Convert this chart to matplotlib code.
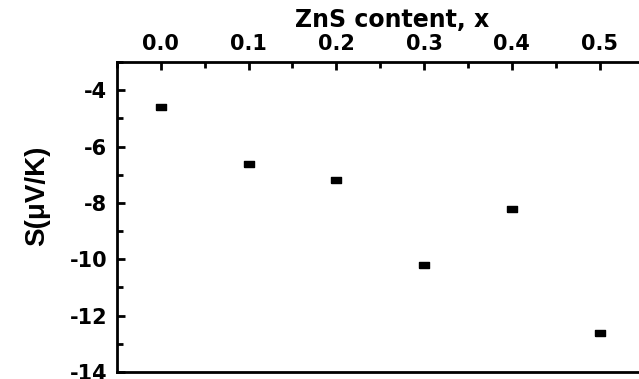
import matplotlib
matplotlib.use("Agg")
import matplotlib.pyplot as plt
from matplotlib.ticker import MultipleLocator

plt.rcParams['font.family'] = ['DejaVu Sans']
plt.rcParams['font.weight'] = 'bold'
plt.rcParams['axes.unicode_minus'] = False

# ZnS content and Seebeck coefficient
x = [0.0, 0.1, 0.2, 0.3, 0.4, 0.5]
S = [-4.6, -6.6, -7.2, -10.2, -8.2, -12.6]

fig = plt.figure(figsize=(6.39, 3.79), dpi=100)
ax = fig.add_axes([0.183, 0.0185, 0.817, 0.8175])

# slightly wide rectangle marker like the original
rect = [(-1, -0.6), (1, -0.6), (1, 0.6), (-1, 0.6), (-1, -0.6)]
ax.plot(x, S, linestyle='none', marker=rect, markersize=7, color='black')

ax.set_xlim(-0.05, 0.545)
ax.set_ylim(-14, -3)

ax.xaxis.set_major_locator(MultipleLocator(0.1))
ax.xaxis.set_minor_locator(MultipleLocator(0.05))
ax.yaxis.set_major_locator(MultipleLocator(2))
ax.yaxis.set_minor_locator(MultipleLocator(1))
ax.xaxis.set_major_formatter(plt.FormatStrFormatter('%.1f'))

ax.xaxis.tick_top()
ax.xaxis.set_label_position('top')
ax.tick_params(axis='x', which='both', direction='in', top=True, bottom=False,
               labelsize=15, pad=6)
ax.tick_params(axis='y', which='both', direction='in', left=True, right=False,
               labelsize=15, pad=7)
ax.tick_params(which='major', length=6, width=2)
ax.tick_params(which='minor', length=4, width=2)
for lab in ax.get_xticklabels() + ax.get_yticklabels():
    lab.set_fontweight('bold')

for side in ['left', 'top', 'bottom']:
    ax.spines[side].set_linewidth(2)
ax.spines['right'].set_visible(False)

ax.set_xlabel('ZnS content, x', fontsize=17, fontweight='bold')
ax.xaxis.set_label_coords(0.527, 1.115)
ax.set_ylabel('S(μV/K)', fontsize=20, fontweight='bold',
              family=['Liberation Sans', 'DejaVu Sans'])
ax.yaxis.set_label_coords(-0.128, 0.568)

fig.savefig('out.png', dpi=100)
